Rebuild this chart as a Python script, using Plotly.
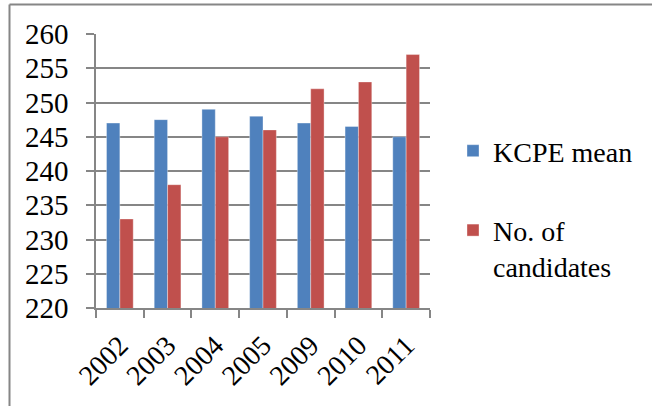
import plotly.graph_objects as go

years = ["2002", "2003", "2004", "2005", "2009", "2010", "2011"]
kcpe_mean = [247, 247.5, 249, 248, 247, 246.5, 245]
candidates = [233, 238, 245, 246, 252, 253, 257]

W, H = 652, 406
L, R, T, B = 96, 222, 34, 98
pw, ph = W - L - R, H - T - B

fnt = dict(family="Liberation Serif", size=29, color="black")
xfnt = dict(family="Liberation Serif", size=28, color="black")
lfnt = dict(family="Liberation Serif", size=28, color="black")
gray = "#868686"

fig = go.Figure()
fig.add_trace(go.Bar(x=years, y=kcpe_mean, name="KCPE mean", legendgroup="a",
                     marker=dict(color="#4F81BD", line=dict(color="rgba(255,255,255,0.35)", width=1))))
fig.add_trace(go.Bar(x=years, y=candidates, name="No. of<br>candidates", legendgroup="b",
                     marker=dict(color="#C0504D", line=dict(color="rgba(255,255,255,0.35)", width=1))))

def px_x(x):
    return (x - L) / pw

def px_y(y):
    return (H - B - y) / ph

fig.update_layout(
    width=W, height=H,
    margin=dict(l=L, r=R, t=T, b=B),
    paper_bgcolor="white", plot_bgcolor="white",
    barmode="group", bargap=0.44, bargroupgap=0,
    font=fnt,
    showlegend=True,
    legend=dict(x=px_x(453), y=px_y(126), xanchor="left", yanchor="top",
                font=lfnt, tracegroupgap=40, valign="top",
                bgcolor="rgba(0,0,0,0)"),
    xaxis=dict(type="category", showline=True, linecolor=gray, linewidth=1.5,
               ticks="outside", tickson="boundaries", ticklen=8, tickcolor=gray,
               tickwidth=1.5, tickangle=-45, showgrid=False, tickfont=xfnt,
               ticklabelstandoff=8),
    yaxis=dict(range=[220, 260], dtick=5, showline=True, linecolor=gray, linewidth=1.5,
               ticks="outside", ticklen=8, tickcolor=gray, tickwidth=1.5,
               showgrid=True, gridcolor=gray, gridwidth=1.5, tickfont=fnt,
               ticklabelstandoff=12, zeroline=False),
    shapes=[
        dict(type="line", xref="paper", yref="paper", x0=px_x(9.5), x1=px_x(W),
             y0=px_y(4.5), y1=px_y(4.5), line=dict(color=gray, width=2)),
        dict(type="line", xref="paper", yref="paper", x0=px_x(9.5), x1=px_x(9.5),
             y0=px_y(4.5), y1=px_y(H), line=dict(color=gray, width=2)),
    ],
)

fig.write_html("out.html")
